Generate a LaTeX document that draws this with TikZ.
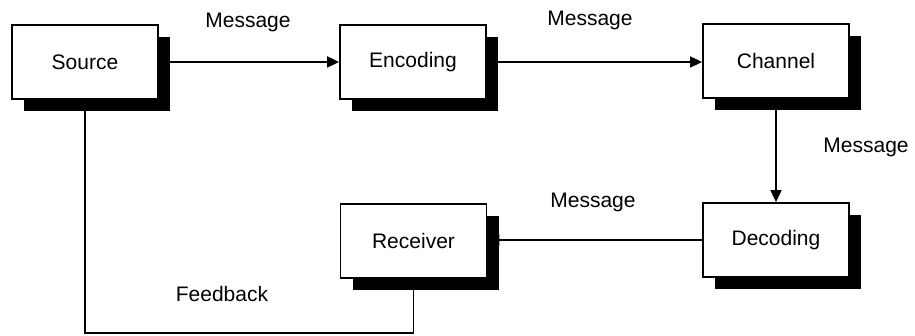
\documentclass[tikz,border=0pt]{standalone}
\usepackage{fontspec}
\setmainfont{Liberation Sans}
\usetikzlibrary{shadows,arrows.meta}
\begin{document}
\begin{tikzpicture}[x=1pt,y=-1pt,
  box/.style={draw=black, line width=1.8pt, fill=white, minimum width=146pt, minimum height=74pt,
    inner sep=0pt, font=\fontsize{21}{25}\selectfont,
    drop shadow={shadow xshift=12pt, shadow yshift=-12pt, fill=black, opacity=1}},
  lbl/.style={font=\fontsize{21}{25}\selectfont, inner sep=0pt},
  conn/.style={line width=1.8pt},
  arr/.style={conn, -{Triangle[length=12pt,width=11pt]}}]
\useasboundingbox (0,0) rectangle (915,336);
\fill[white] (0,0) rectangle (915,336);
\node[box] (Source) at (85,62) {Source};
\node[box] (Encoding) at (413,62) {Encoding};
\node[box] (Channel) at (776,61) {Channel};
\node[box] (Decoding) at (776,240) {Decoding};
\node[box] (Receiver) at (413.5,241) {Receiver};
\coordinate (fbl) at (85,333);
\draw[arr] (Source.east) -- (Encoding.west);
\draw[arr] (Encoding.east) -- (Encoding.east -| Channel.west);
\draw[arr] (Channel.south) -- (Decoding.north);
\draw[arr] (Decoding.west) -- (Decoding.west -| Receiver.east);
\draw[conn] (Source.south) -- (fbl) -| (Receiver.south);
\node[lbl] (m1) at (248,22) {Message};
\node[lbl] (m2) at (590,20) {Message};
\node[lbl] (m3) at (866,147) {Message};
\node[lbl] (m4) at (593,202) {Message};
\node[lbl] (fb) at (222,294) {Feedback};
\end{tikzpicture}
\end{document}
